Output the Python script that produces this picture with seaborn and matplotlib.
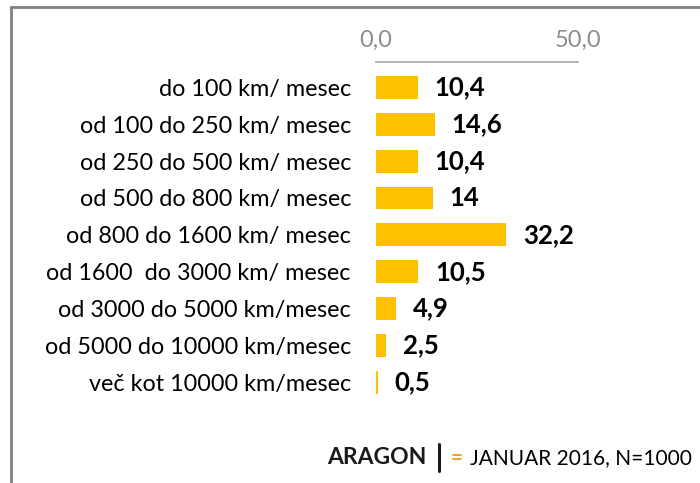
import matplotlib
matplotlib.use("Agg")
import matplotlib.pyplot as plt
import seaborn as sns
import pandas as pd
from matplotlib.lines import Line2D

categories = [
    "do 100 km/ mesec",
    "od 100 do 250 km/ mesec",
    "od 250 do 500 km/ mesec",
    "od 500 do 800 km/ mesec",
    "od 800 do 1600 km/ mesec",
    "od 1600  do 3000 km/ mesec",
    "od 3000 do 5000 km/mesec",
    "od 5000 do 10000 km/mesec",
    "več kot 10000 km/mesec",
]
values = [10.4, 14.6, 10.4, 14, 32.2, 10.5, 4.9, 2.5, 0.5]
value_labels = ["10,4", "14,6", "10,4", "14", "32,2", "10,5", "4,9", "2,5", "0,5"]
tick_values = [0, 50]
tick_labels = ["0,0", "50,0"]

sns.set_theme(style="white")
plt.rcParams["font.family"] = ["Lato", "DejaVu Sans"]

df = pd.DataFrame({"cat": categories, "val": values})

fig = plt.figure(figsize=(7, 4.83), dpi=100)
ax = fig.add_axes([376/700, 1 - 400.6/483, (578-376)/700, (400.6-62)/483])
sns.barplot(data=df, x="val", y="cat", color="#FFC000", saturation=1, width=0.62,
            linewidth=0, ax=ax, orient="h")
ax.set_xlim(0, 50)
ax.set_ylim(8.5, -0.69)
ax.set_xlabel("")
ax.set_ylabel("")
for s in ["right", "bottom", "left"]:
    ax.spines[s].set_visible(False)
ax.spines["top"].set_color("#A6A6A6")
ax.spines["top"].set_linewidth(1.2)
ax.xaxis.tick_top()
ax.set_xticks(tick_values)
ax.set_xticklabels(tick_labels, color="#8C8C8C", fontsize=17)
ax.tick_params(axis="x", length=0, pad=8)
ax.tick_params(axis="y", length=0, pad=18)
ax.set_yticks(range(len(categories)))
ax.set_yticklabels(categories, fontsize=16.8, color="#000000")

for i, (v, lab) in enumerate(zip(values, value_labels)):
    ax.annotate(lab, (v, i), xytext=(12, 0), textcoords="offset points",
                ha="left", va="center", fontsize=18.5, fontweight="bold", color="#000000")

# frame lines (left and top)
fig.add_artist(Line2D([11/700, 11/700], [0, 1 - 7/483], transform=fig.transFigure, color="#808080", lw=2))
fig.add_artist(Line2D([11/700, 1], [1 - 7/483, 1 - 7/483], transform=fig.transFigure, color="#808080", lw=2))

# footer
fy = 1 - 458/483
fig.text(327/700, fy, "ARAGON", fontsize=16.5, fontweight="bold", color="#1a1a1a", va="center", ha="left")
fig.add_artist(Line2D([439/700, 439/700], [1 - 471/483, 1 - 444/483], transform=fig.transFigure, color="#1a1a1a", lw=2.2))
fig.text(451/700, fy, "=", fontsize=15, fontweight="bold", color="#F7A21B", va="center", ha="left")
fig.text(470/700, fy, "JANUAR 2016, N=1000", fontsize=15, color="#000000", va="center", ha="left")

fig.savefig("out.png", dpi=100)
